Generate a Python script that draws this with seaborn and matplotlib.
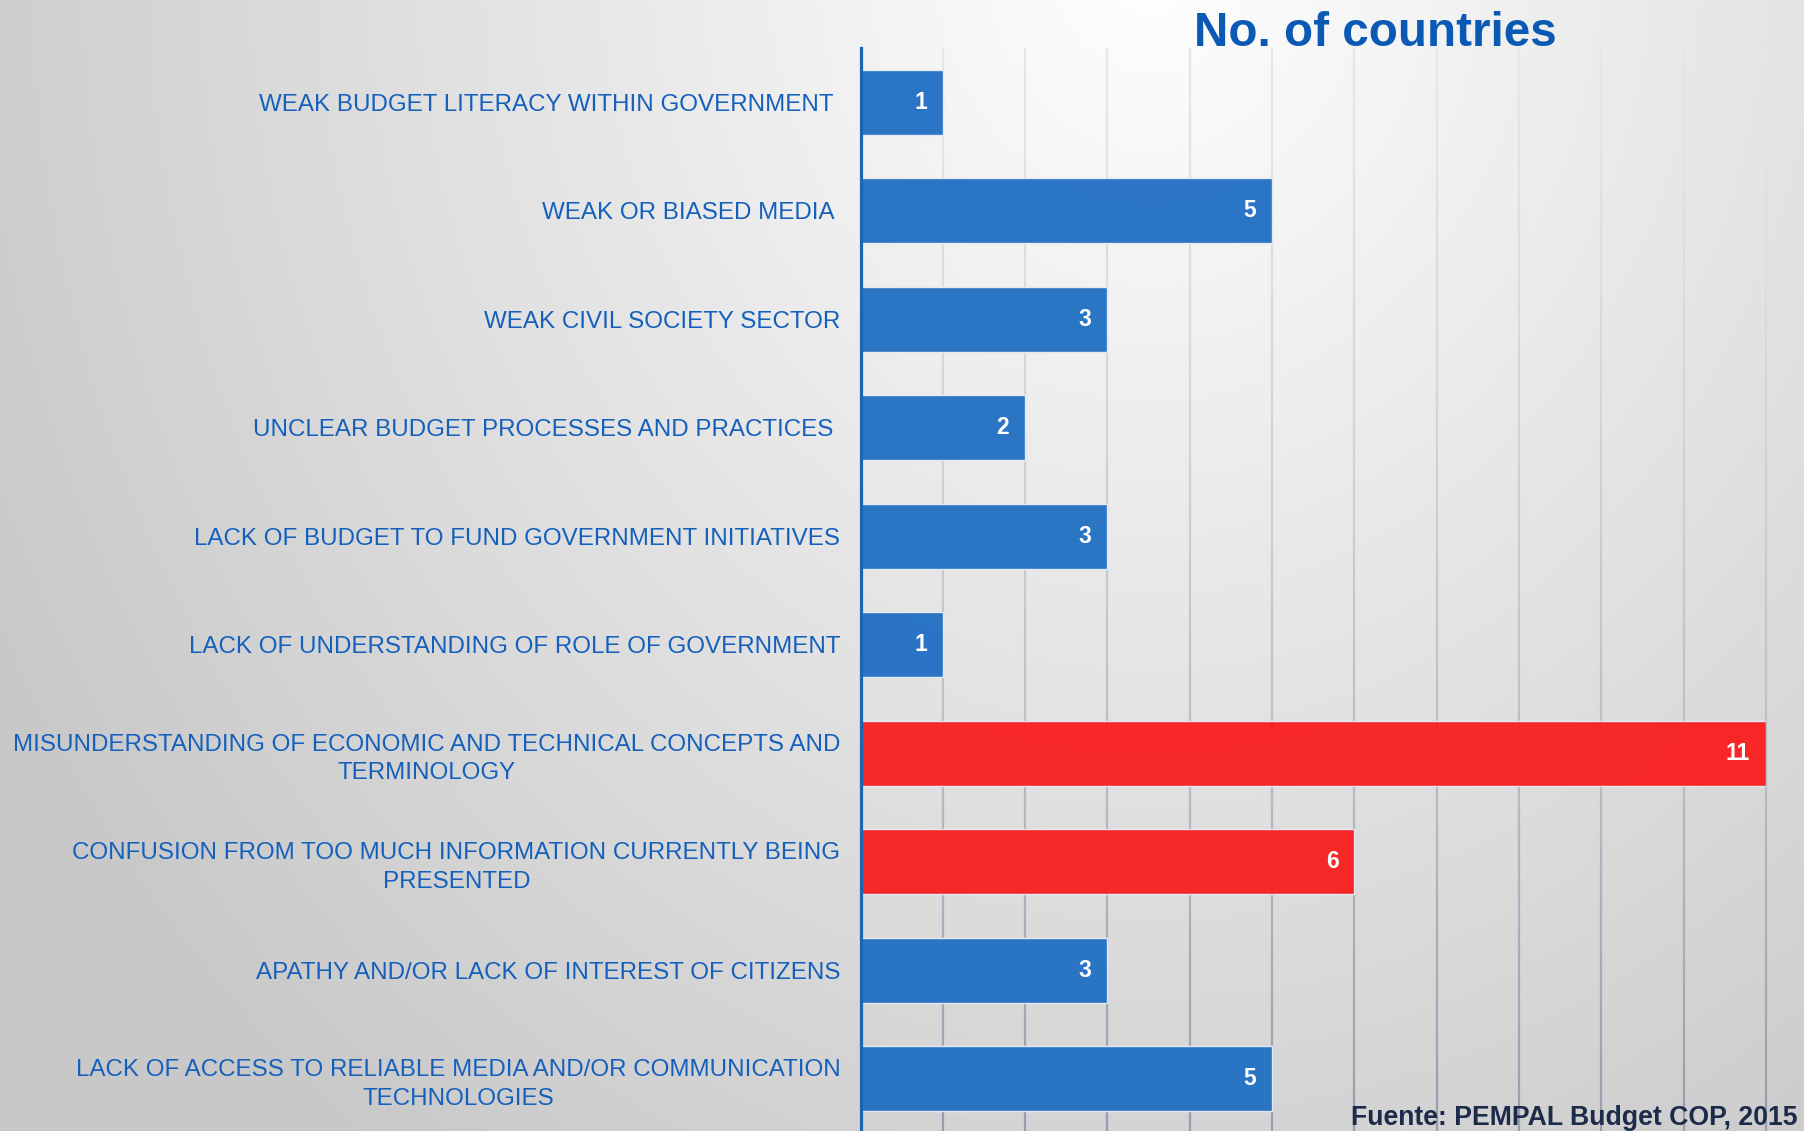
import numpy as np
import pandas as pd
import matplotlib
matplotlib.use("Agg")
import matplotlib.pyplot as plt
import seaborn as sns
from matplotlib.collections import LineCollection
from matplotlib.colors import to_rgb

# ---- data ----
categories = [
    "WEAK BUDGET LITERACY WITHIN GOVERNMENT ",
    "WEAK OR BIASED MEDIA ",
    "WEAK CIVIL SOCIETY SECTOR",
    "UNCLEAR BUDGET PROCESSES AND PRACTICES ",
    "LACK OF BUDGET TO FUND GOVERNMENT INITIATIVES",
    "LACK OF UNDERSTANDING OF ROLE OF GOVERNMENT",
    "MISUNDERSTANDING OF ECONOMIC AND TECHNICAL CONCEPTS AND\nTERMINOLOGY",
    "CONFUSION FROM TOO MUCH INFORMATION CURRENTLY BEING\nPRESENTED",
    "APATHY AND/OR LACK OF INTEREST OF CITIZENS",
    "LACK OF ACCESS TO RELIABLE MEDIA AND/OR COMMUNICATION\nTECHNOLOGIES",
]
counts = [1, 5, 3, 2, 3, 1, 11, 6, 3, 5]
highlight = ["no", "no", "no", "no", "no", "no", "yes", "yes", "no", "no"]
title = "No. of countries"
source = "Fuente: PEMPAL Budget COP, 2015"

df = pd.DataFrame({"cat": categories, "n": counts, "hl": highlight})

BLUE = "#2370C4"
RED = "#F92020"
LABEL_BLUE = "#1560BD"
TITLE_BLUE = "#0A5AB5"

sns.set_theme(style="white")
plt.rcParams["font.family"] = ["Liberation Sans", "DejaVu Sans"]

W, H = 1804, 1131
fig = plt.figure(figsize=(W / 100, H / 100), dpi=100)

# background gradient
bg = fig.add_axes([0, 0, 1, 1], zorder=-10)
yy, xx = np.mgrid[0:H, 0:W]
d = np.sqrt(((xx - 1150) / 1.0) ** 2 + ((yy + 40) / 1.15) ** 2)
v = np.clip(255 - 0.042 * d, 200, 255) / 255.0
bg.imshow(np.dstack([v, v, v]), extent=[0, 1, 0, 1], aspect="auto", origin="upper")
bg.set_axis_off()

ax = fig.add_axes([860.5 / W, 0, (1766 - 860.5) / W, (H - 48) / H])
ax.patch.set_alpha(0)

# gradient gridlines (light at top, darker blue-grey at bottom)
segs, cols = [], []
c_top = np.array(to_rgb("#E6E6E6"))
c_bot = np.array(to_rgb("#959DAE"))
ylo, yhi = -0.5, 9.48
nseg = 60
edges = np.linspace(ylo, yhi, nseg + 1)
for xv in range(1, 12):
    for k in range(nseg):
        segs.append([(xv, edges[k]), (xv, edges[k + 1])])
        f = (k + 0.5) / nseg
        f = f ** 1.3
        cols.append(c_top * (1 - f) + c_bot * f)
lc = LineCollection(segs, colors=cols, linewidths=1.6, zorder=0.5, clip_on=False)
ax.add_collection(lc)

sns.barplot(data=df, y="cat", x="n", hue="hl", palette={"no": BLUE, "yes": RED},
            orient="h", dodge=False, legend=False, width=0.6, saturation=1,
            alpha=0.96, edgecolor="#E6ECF5", linewidth=1.0, zorder=2, ax=ax)

for i, n in enumerate(counts):
    ax.annotate(str(n), xy=(n, i), xytext=(-11.5, 0), textcoords="offset points",
                ha="right", va="center", color="white", fontsize=16.5,
                fontweight="bold", zorder=5)

ax.set_xlim(0, 11)
ax.set_ylim(yhi, ylo)
ax.set_xlabel("")
ax.set_ylabel("")
ax.set_xticks([])
ax.tick_params(axis="y", length=0, pad=14.5)
for lab in ax.get_yticklabels():
    lab.set_color(LABEL_BLUE)
    lab.set_fontsize(17.4)
    lab.set_multialignment("center")
    lab.set_linespacing(1.38)
for s in ["top", "right", "bottom"]:
    ax.spines[s].set_visible(False)
ax.spines["left"].set_color("#1F63B8")
ax.spines["left"].set_linewidth(2.3)
ax.spines["left"].set_zorder(6)

fig.text(1375 / W, 1 - 46 / H, title, ha="center", va="baseline",
         fontsize=34.3, fontweight="bold", color=TITLE_BLUE)
fig.text(1798 / W, 1 - 1125 / H, source, ha="right", va="baseline",
         fontsize=19.2, fontweight="bold", color="#1C2B4A")

fig.savefig("out.png", dpi=100)
